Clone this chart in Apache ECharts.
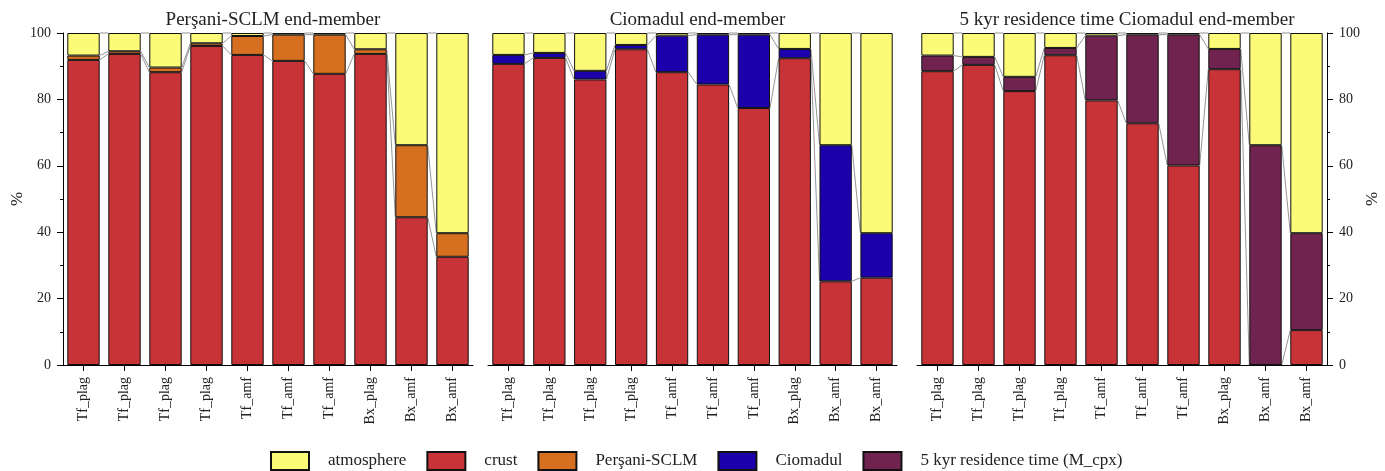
<!DOCTYPE html>
<html>
<head>
<meta charset="utf-8">
<script src="https://cdn.jsdelivr.net/npm/echarts@6/dist/echarts.min.js"></script>
<style>
  html, body { margin: 0; padding: 0; background: #fff; }
  #chart { width: 1385px; height: 471px; }
</style>
</head>
<body>
<div id="chart"></div>
<script>
// Sample labels along each x axis
const categories = ['Tf_plag', 'Tf_plag', 'Tf_plag', 'Tf_plag', 'Tf_amf', 'Tf_amf', 'Tf_amf', 'Bx_plag', 'Bx_amf', 'Bx_amf'];
const yTicks = [0, 20, 40, 60, 80, 100];

// Panel 1: Perşani-SCLM end-member (%)
const crustP = [91.9, 93.7, 88.2, 96.1, 93.4, 91.6, 87.7, 93.7, 44.5, 32.6];
const sclmP  = [1.3, 0.8, 1.4, 0.8, 5.7, 7.9, 11.8, 1.4, 21.7, 7.1];
const atmP   = [6.8, 5.5, 10.4, 3.1, 0.9, 0.5, 0.5, 4.9, 33.8, 60.3];

// Panel 2: Ciomadul end-member (%)
const crustC = [90.7, 92.5, 86.0, 95.1, 88.2, 84.5, 77.4, 92.4, 25.2, 26.3];
const cioC   = [2.7, 1.5, 2.6, 1.3, 11.0, 15.0, 22.1, 2.8, 41.0, 13.4];
const atmC   = [6.6, 6.0, 11.4, 3.6, 0.8, 0.5, 0.5, 4.8, 33.8, 60.3];

// Panel 3: 5 kyr residence time Ciomadul end-member (%)
const crustR = [88.5, 90.4, 82.5, 93.3, 79.7, 72.8, 60.1, 89.1, 0.0, 10.5];
const resR   = [4.7, 2.4, 4.3, 2.2, 19.5, 26.7, 39.4, 6.1, 66.2, 29.2];
const atmR   = [6.8, 7.2, 13.2, 4.5, 0.8, 0.5, 0.5, 4.8, 33.8, 60.3];

const titles = ['Perşani-SCLM end-member', 'Ciomadul end-member', '5 kyr residence time Ciomadul end-member'];
const legendNames = ['atmosphere', 'crust', 'Perşani-SCLM', 'Ciomadul', '5 kyr residence time (M_cpx)'];

const COLORS = {
  'atmosphere': '#FBFB78',
  'crust': '#C83337',
  'Perşani-SCLM': '#D76F21',
  'Ciomadul': '#1C00AC',
  '5 kyr residence time (M_cpx)': '#712350'
};

const FONT = "'Liberation Serif', 'DejaVu Serif', serif";
const BAR_FRAC = 0.79;

const grids = [
  { left: 63, top: 33, width: 410, height: 332 },
  { left: 488, top: 33, width: 409, height: 332 },
  { left: 917, top: 33, width: 410, height: 332 }
];

const panels = [
  { layers: [['crust', crustP], ['Perşani-SCLM', sclmP], ['atmosphere', atmP]] },
  { layers: [['crust', crustC], ['Ciomadul', cioC], ['atmosphere', atmC]] },
  { layers: [['crust', crustR], ['5 kyr residence time (M_cpx)', resR], ['atmosphere', atmR]] }
];

// Thin connector from the top of each stacked segment to the same segment of the next column
function connectorItem(params, api) {
  const i = api.value(0);
  const a = api.coord([i, api.value(1)]);
  const b = api.coord([i + 1, api.value(2)]);
  const half = api.size([1, 0])[0] * BAR_FRAC / 2;
  return {
    type: 'line',
    shape: { x1: a[0] + half, y1: a[1], x2: b[0] - half, y2: b[1] },
    style: { stroke: '#7a7a7a', lineWidth: 0.8 }
  };
}

const xAxes = grids.map((g, k) => ({
  type: 'category',
  gridIndex: k,
  data: categories,
  boundaryGap: true,
  axisLine: { show: true, lineStyle: { color: '#000', width: 1 } },
  axisTick: { show: true, alignWithLabel: true, length: 6, lineStyle: { color: '#000' } },
  axisLabel: { rotate: 90, margin: 12, color: '#222', fontFamily: FONT, fontSize: 14 },
  splitLine: { show: false }
}));

function valueAxis(k, show, position, gap) {
  return {
    type: 'value',
    gridIndex: k,
    show: show,
    position: position,
    min: 0, max: 100, interval: 20,
    name: '%',
    nameLocation: 'middle',
    nameRotate: 90,
    nameGap: gap,
    nameTextStyle: { fontFamily: FONT, fontSize: 17, color: '#222' },
    axisLine: { show: true, lineStyle: { color: '#000', width: 1 } },
    axisTick: { show: true, length: 6, lineStyle: { color: '#000' } },
    minorTick: { show: true, splitNumber: 2, length: 3, lineStyle: { color: '#000' } },
    axisLabel: {
      margin: 12, color: '#222', fontFamily: FONT, fontSize: 14,
      formatter: v => (yTicks.indexOf(v) >= 0 ? String(v) : '')
    },
    splitLine: { show: false }
  };
}

const yAxes = [valueAxis(0, true, 'left', 36), valueAxis(1, false, 'left', 36), valueAxis(2, true, 'right', 33)];

const series = [];
panels.forEach((p, k) => {
  // stacked columns
  p.layers.forEach(([name, vals]) => {
    series.push({
      type: 'bar',
      name: name,
      stack: 'panel' + k,
      xAxisIndex: k,
      yAxisIndex: k,
      barWidth: (BAR_FRAC * 100) + '%',
      data: vals,
      itemStyle: { color: COLORS[name], borderColor: '#111', borderWidth: 1 },
      emphasis: { disabled: true },
      z: 3
    });
  });
  // cumulative levels for the connectors
  const levels = [];
  let run = categories.map(() => 0);
  p.layers.forEach(([, vals]) => {
    run = run.map((r, i) => r + vals[i]);
    levels.push(run.slice());
  });
  const links = [];
  levels.forEach(lv => {
    for (let i = 0; i < categories.length - 1; i++) links.push([i, lv[i], lv[i + 1]]);
  });
  series.push({
    type: 'custom',
    name: 'links' + k,
    xAxisIndex: k,
    yAxisIndex: k,
    renderItem: connectorItem,
    encode: { x: 0, y: [1, 2] },
    data: links,
    silent: true,
    z: 2
  });
});

const centers = grids.map(g => g.left + g.width / 2);

const option = {
  animation: false,
  backgroundColor: '#fff',
  title: titles.map((t, k) => ({
    text: t,
    left: centers[k],
    top: 6,
    textAlign: 'center',
    textStyle: { fontFamily: FONT, fontSize: 19, fontWeight: 'normal', color: '#222' }
  })),
  legend: {
    data: legendNames,
    left: 270,
    top: 451,
    padding: 0,
    orient: 'horizontal',
    itemWidth: 38,
    itemHeight: 18,
    itemGap: 20,
    icon: 'rect',
    selectedMode: false,
    textStyle: { fontFamily: FONT, fontSize: 17, color: '#222', padding: [0, 0, 0, 14] }
  },
  grid: grids,
  xAxis: xAxes,
  yAxis: yAxes,
  series: series
};

const chart = echarts.init(document.getElementById('chart'), null, { renderer: 'canvas' });
chart.setOption(option);
</script>
</body>
</html>
